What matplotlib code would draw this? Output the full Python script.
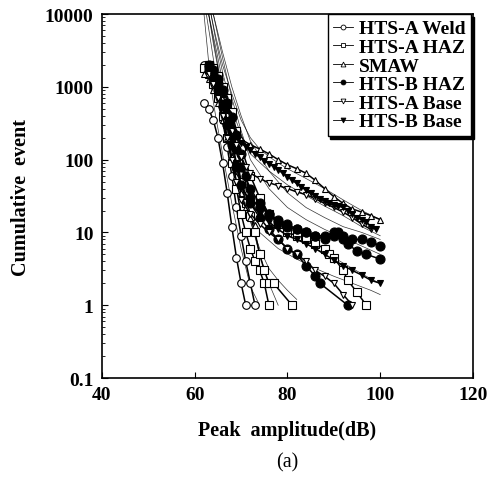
import numpy as np
import matplotlib
matplotlib.use("Agg")
import matplotlib.pyplot as plt

plt.rcParams['font.family'] = ['Liberation Serif', 'DejaVu Serif']

# ---- measured points, one list per specimen ----
weld_amp = [[62, 63, 64, 65, 66, 67, 68, 69, 70, 71],
            [62, 63, 64, 65, 66, 67, 68, 69, 70, 71, 72, 73]]
weld_cnt = [[600, 500, 350, 200, 90, 35, 12, 4.5, 2, 1],
            [2000, 1700, 1200, 700, 350, 150, 60, 22, 9, 4, 2, 1]]

hazA_amp = [[62, 63, 64, 65, 66, 67, 68, 69, 70, 71, 72, 73, 74, 75, 76],
            [63, 64, 65, 66, 67, 68, 69, 70, 71, 72, 73, 74, 75, 76, 77, 81],
            [63, 64, 65, 66, 67, 68, 69, 70, 72, 74, 76, 78, 80, 82, 84, 86, 88, 89, 90, 92, 93, 95, 97]]
hazA_cnt = [[1800, 1500, 1100, 700, 400, 200, 90, 40, 18, 10, 6, 4, 3, 2, 1],
            [2000, 1600, 1200, 800, 500, 250, 110, 50, 25, 17, 10, 5, 3, 2, 2, 1],
            [2000, 1800, 1400, 1000, 700, 450, 250, 150, 60, 30, 18, 13, 10, 9, 8, 7, 6, 5, 4.5, 3, 2.2, 1.5, 1]]

smaw_amp = [[63, 64, 65, 66, 67, 68, 69, 70, 72, 74, 76, 78, 80, 82, 84, 86, 88, 90, 92, 94, 96, 98, 100],
            [62, 63, 64, 65, 66, 67, 68, 69, 70, 71, 72, 73]]
smaw_cnt = [[2000, 1600, 1100, 700, 450, 300, 220, 190, 160, 140, 120, 100, 85, 75, 65, 52, 40, 31, 25, 21, 19, 17, 15],
            [1500, 1300, 900, 600, 350, 200, 110, 60, 35, 22, 16, 12.5]]

hazB_amp = [[63, 64, 65, 66, 67, 68, 69, 70, 71, 72, 74, 76, 78, 80, 82, 84, 86, 88, 90, 91, 92, 93, 95, 97, 100],
            [63, 64, 65, 66, 67, 68, 69, 70, 72, 74, 76, 78, 80, 82, 84, 86, 88, 90, 92, 94, 96, 98, 100],
            [63, 64, 65, 66, 67, 68, 69, 70, 72, 74, 76, 78, 80, 82, 84, 86, 87, 93]]
hazB_cnt = [[2000, 1700, 1300, 900, 600, 380, 220, 120, 60, 30, 22, 18, 14, 12, 11, 10, 9, 8, 9, 10, 8, 7, 5.5, 5, 4.3],
            [1900, 1500, 1100, 700, 420, 250, 140, 80, 40, 25, 18, 15, 13, 11, 10, 9, 9, 10, 9, 8, 8, 7.5, 6.5],
            [1700, 1300, 900, 550, 300, 160, 80, 45, 25, 16, 11, 8, 6, 5, 3.5, 2.5, 2, 1]]

baseA_amp = [[63, 64, 65, 66, 67, 68, 69, 70, 71, 72, 74, 76, 78, 80, 82, 84, 86, 88, 90, 92, 94, 96, 98],
             [63, 64, 65, 66, 67, 68, 69, 70, 72, 74, 76, 78, 80, 82, 84, 86, 88, 90, 92, 94]]
baseA_cnt = [[1800, 1400, 1000, 650, 400, 250, 160, 110, 80, 65, 55, 48, 44, 40, 36, 33, 29, 25, 22, 19, 16, 13, 11],
             [1500, 1100, 700, 400, 200, 100, 50, 28, 18, 13, 10, 8, 6, 5, 4, 3, 2.5, 2, 1.4, 1]]

baseB_amp = [[63, 64, 65, 66, 67, 68, 69, 70, 71, 72, 73, 74, 75, 76, 77, 78, 79, 80, 81, 82, 83, 84, 85,
              86, 87, 88, 89, 90, 91, 92, 93, 94, 95, 96, 97, 98, 99],
             [63, 64, 65, 66, 67, 68, 69, 70, 72, 74, 76, 78, 80, 82, 84, 86, 88, 90, 92, 94, 96, 98, 100]]
baseB_cnt = [[2000, 1600, 1200, 800, 500, 320, 220, 170, 150, 135, 120, 108, 97, 88, 80, 72, 65, 58, 52, 47, 42,
              38, 35, 32, 29, 27, 25, 24, 23, 22, 20, 18, 16, 15, 14, 12, 11],
             [1800, 1400, 1000, 600, 350, 180, 90, 45, 25, 18, 14, 11, 9, 8, 7, 6, 5, 4.2, 3.5, 3, 2.6, 2.2, 2]]

# ---- fitted curves ----
fit_amp = [[62.0, 62.8, 63.5, 64.5, 66, 68, 70, 72, 74],
           [62.5, 63.5, 64.5, 66, 68, 70, 72, 74, 76, 78, 80, 82],
           [63, 64, 65, 66, 68, 70, 72, 74, 76, 78],
           [63.5, 64.5, 66, 68, 70, 72, 74, 76, 78, 80, 84, 88, 92, 96, 100],
           [63.5, 64.5, 66, 68, 70, 72, 76, 80, 84, 88, 92, 96, 100],
           [63, 64, 65, 66, 68, 70, 72, 74, 78, 82, 86, 90, 94, 98, 100],
           [63, 64, 65, 66, 68, 70, 72, 74, 78, 82, 86, 90, 94, 98, 100],
           [64, 65, 66, 68, 70, 72, 76, 80, 84, 88, 92, 96, 100],
           [64, 65, 66, 68, 70, 72, 76, 80, 84, 88, 92, 96, 100]]
fit_cnt = [[10000, 3000, 1000, 400, 120, 25, 6, 1.8, 1],
           [10000, 4000, 1500, 500, 130, 40, 14, 6, 3.2, 2.2, 1.6, 1.2],
           [10000, 4000, 1800, 800, 200, 50, 15, 5, 2, 1],
           [10000, 5000, 2000, 800, 350, 200, 140, 110, 90, 75, 55, 40, 28, 20, 15],
           [10000, 4500, 1600, 500, 220, 120, 70, 45, 32, 23, 17, 12, 9],
           [10000, 5000, 2500, 1200, 300, 80, 30, 17, 11, 8, 6, 4.5, 3.2, 2.3, 2],
           [10000, 4500, 2000, 900, 200, 50, 18, 10, 6, 4.3, 3.2, 2.5, 2, 1.6, 1.4],
           [10000, 5000, 2500, 700, 250, 100, 40, 22, 15, 11, 8.5, 6.5, 5],
           [10000, 5500, 3000, 1000, 400, 180, 70, 35, 22, 16, 12, 10, 8]]

labels = ['HTS-A Weld', 'HTS-A HAZ', 'SMAW', 'HTS-B HAZ', 'HTS-A Base', 'HTS-B Base']

fig = plt.figure(figsize=(4.95, 4.81), dpi=100)
ax = fig.add_axes([0.206, 0.212, 0.7495, 0.7568])

for a, c in zip(fit_amp, fit_cnt):
    ax.plot(a, c, color='k', lw=0.5, alpha=0.8)

series = [
    (weld_amp, weld_cnt, dict(marker='o', ms=5.5, mfc='white', mec='k', mew=0.8)),
    (hazA_amp, hazA_cnt, dict(marker='s', ms=5.5, mfc='white', mec='k', mew=0.8)),
    (smaw_amp, smaw_cnt, dict(marker='^', ms=4.5, mfc='white', mec='k', mew=0.8)),
    (hazB_amp, hazB_cnt, dict(marker='o', ms=6.5, mfc='k', mec='k', mew=0.8)),
    (baseA_amp, baseA_cnt, dict(marker='v', ms=4, mfc='white', mec='k', mew=0.8)),
    (baseB_amp, baseB_cnt, dict(marker='v', ms=4, mfc='k', mec='k', mew=0.8)),
]

handles = []
for (amps, cnts, st), lab in zip(series, labels):
    for a, c in zip(amps, cnts):
        ax.plot(a, c, color='k', lw=1.1, **st)
    h, = ax.plot([], [], color='k', lw=0.6, marker=st['marker'], ms=3.5,
                 mfc=st['mfc'], mec='k', mew=0.6)
    handles.append(h)

ax.set_yscale('log')
ax.set_xlim(40, 120)
ax.set_ylim(0.1, 10000)
ax.set_xticks([40, 60, 80, 100, 120])
ax.set_yticks([0.1, 1, 10, 100, 1000, 10000])
ax.set_yticklabels(['0.1', '1', '10', '100', '1000', '10000'])
ax.tick_params(axis='both', which='both', direction='in', top=False, right=False)
ax.tick_params(axis='both', which='major', length=4, width=0.8, labelsize=14, pad=6)
ax.tick_params(axis='y', which='minor', length=2.5, width=0.6)
for t in ax.get_xticklabels() + ax.get_yticklabels():
    t.set_fontweight('bold')
for s in ax.spines.values():
    s.set_linewidth(1.2)

ax.set_xlabel('Peak  amplitude(dB)', fontsize=14.5, fontweight='bold', labelpad=12)
ax.set_ylabel('Cumulative  event', fontsize=14.5, fontweight='bold', labelpad=10)

leg = ax.legend(handles, labels, loc='upper right', bbox_to_anchor=(0.995, 1.0),
                borderaxespad=0, fancybox=False, shadow={'color': 'k', 'alpha': 1},
                edgecolor='k', framealpha=1, handlelength=1.0, handletextpad=0.3,
                labelspacing=0.05, borderpad=0.3,
                prop={'family': 'Liberation Serif', 'weight': 'bold', 'size': 14})
leg.get_frame().set_linewidth(1.0)

fig.text(0.58, 0.038, '(a)', ha='center', va='center', fontsize=14.5)

fig.savefig('out.png', dpi=100)
